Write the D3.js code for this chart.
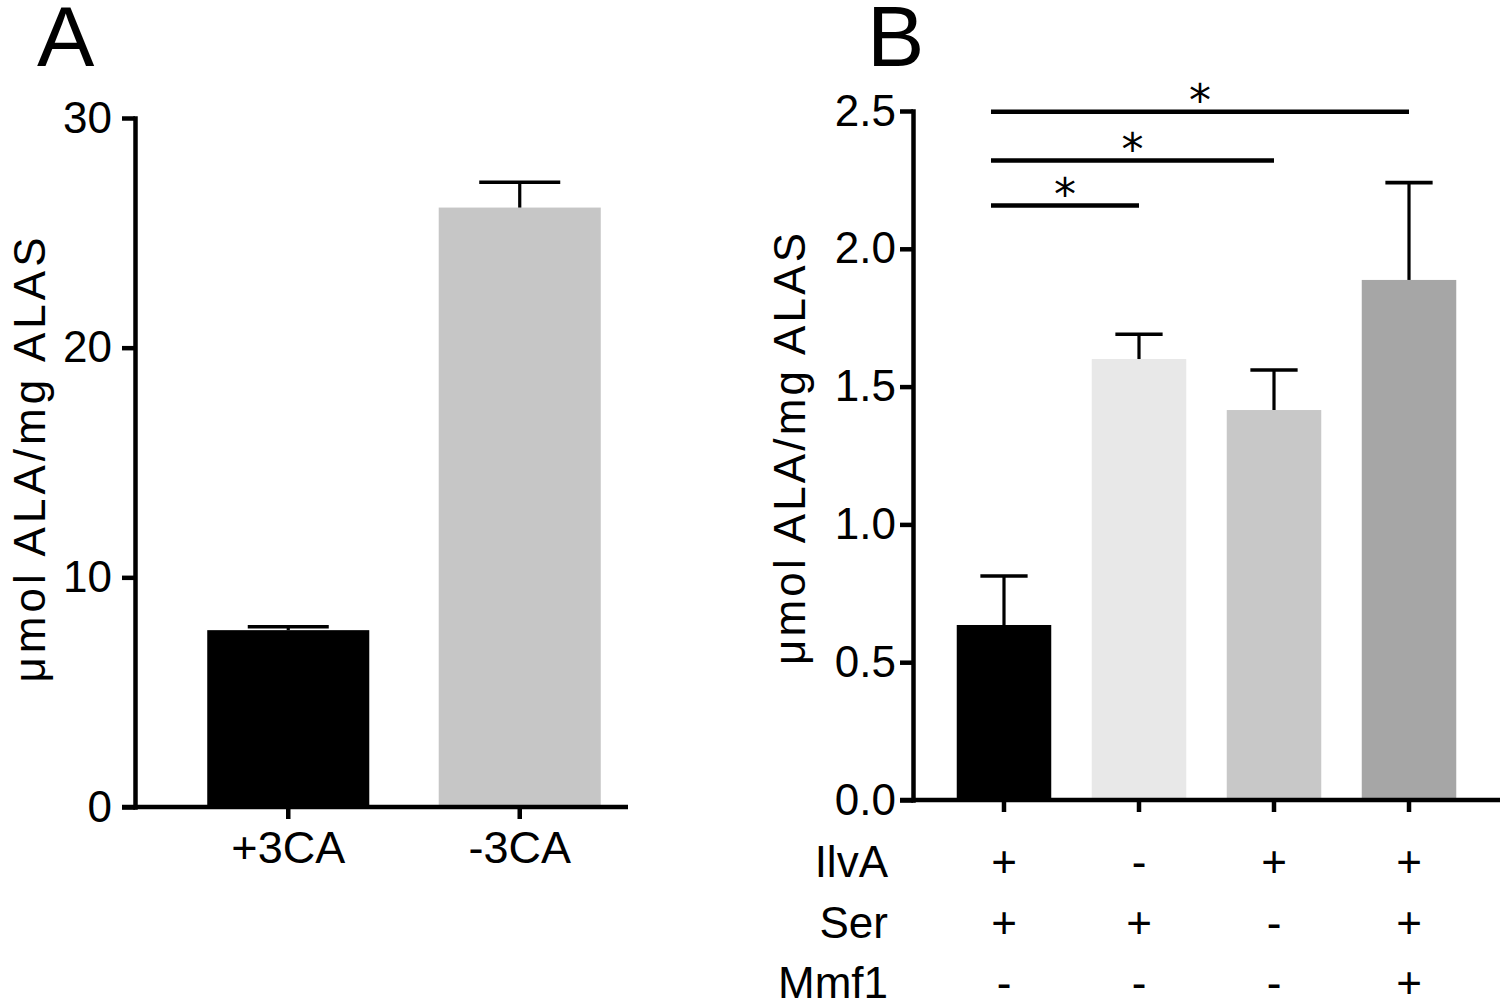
<!DOCTYPE html>
<html>
<head>
<meta charset="utf-8">
<script src="https://cdn.jsdelivr.net/npm/d3@7"></script>
<style>
  html, body { margin: 0; padding: 0; background: #fff; }
  svg { display: block; font-family: "Liberation Sans", Arial, sans-serif; }
</style>
</head>
<body>
<svg id="chart" width="1500" height="1000"></svg>
<script>
// ---------- DATA ----------
// Panel A
const catsA = ["+3CA", "-3CA"];
const meansA = [7.7, 26.1];
const errA = [7.85, 27.2];
const colorsA = ["#000000", "#c6c6c6"];
const ticksA = [0, 10, 20, 30];

// Panel B
const catsB = ["c1", "c2", "c3", "c4"];
const meansB = [0.635, 1.60, 1.415, 1.887];
const errB = [0.813, 1.69, 1.56, 2.24];
const colorsB = ["#000000", "#e8e8e8", "#c8c8c8", "#a6a6a6"];
const ticksB = [0.0, 0.5, 1.0, 1.5, 2.0, 2.5];

// Condition table under panel B
const rowLabels = ["IlvA", "Ser", "Mmf1"];
const ilvA = ["+", "-", "+", "+"];
const ser = ["+", "+", "-", "+"];
const mmf1 = ["-", "-", "-", "+"];

// Significance comparisons: [from index, to index, y level]
const sigFrom = [0, 0, 0];
const sigTo = [3, 2, 1];
const sigLevel = [2.497, 2.32, 2.157];
const sigLabel = ["*", "*", "*"];

const yLabel = "\u03bcmol ALA/mg ALAS";

// ---------- DRAW ----------
const svg = d3.select("#chart");
const AX = 4.5; // axis stroke width

function drawPanel(opt) {
  const g = svg.append("g");
  const y = d3.scaleLinear().domain(opt.yDomain).range(opt.yRange);
  const x = d3.scaleBand().domain(opt.cats).range(opt.xRange)
    .paddingInner(0.3).paddingOuter(opt.po);

  // bars
  g.selectAll("rect.bar").data(opt.means).join("rect")
    .attr("class", "bar")
    .attr("x", (d, i) => x(opt.cats[i]))
    .attr("width", x.bandwidth())
    .attr("y", d => y(d))
    .attr("height", d => y(0) - y(d))
    .attr("fill", (d, i) => opt.colors[i]);

  // error bars
  const cap = x.bandwidth() / 2;
  opt.means.forEach((m, i) => {
    const cx = x(opt.cats[i]) + x.bandwidth() / 2;
    g.append("line").attr("x1", cx).attr("x2", cx)
      .attr("y1", y(m)).attr("y2", y(opt.err[i]))
      .attr("stroke", "#000").attr("stroke-width", 3.2);
    g.append("line").attr("x1", cx - cap / 2).attr("x2", cx + cap / 2)
      .attr("y1", y(opt.err[i])).attr("y2", y(opt.err[i]))
      .attr("stroke", "#000").attr("stroke-width", 3.6);
  });

  // y axis
  const ya = g.append("g").attr("transform", `translate(${opt.yAxisX},0)`)
    .call(d3.axisLeft(y).tickValues(opt.ticks).tickFormat(opt.fmt)
      .tickSize(13).tickSizeOuter(0).tickPadding(opt.tickPad));
  ya.select(".domain").attr("stroke-width", AX).attr("stroke-linecap", "square");
  ya.selectAll(".tick line").attr("stroke-width", AX);
  ya.selectAll(".tick text").attr("font-size", 44)
    .attr("font-family", "Liberation Sans, Arial, sans-serif").attr("fill", "#000");

  // x axis
  const xa = g.append("g").attr("transform", `translate(0,${y(0)})`)
    .call(d3.axisBottom(x).tickSize(12).tickSizeOuter(0).tickPadding(12)
      .tickFormat(opt.xFmt));
  xa.select(".domain").remove();
  xa.selectAll(".tick line").attr("stroke-width", AX);
  xa.selectAll(".tick text").attr("font-size", 45)
    .attr("font-family", "Liberation Sans, Arial, sans-serif").attr("fill", "#000");
  g.append("line").attr("x1", opt.yAxisX - 13).attr("x2", opt.xAxisEnd)
    .attr("y1", y(0)).attr("y2", y(0))
    .attr("stroke", "#000").attr("stroke-width", AX);

  // y label
  g.append("text")
    .attr("transform", `translate(${opt.labelX},${opt.labelY}) rotate(-90)`)
    .attr("text-anchor", "middle")
    .attr("font-size", 44)
    .attr("textLength", opt.labelLen).attr("lengthAdjust", "spacing")
    .text(yLabel);

  // panel letter
  g.append("text").attr("x", opt.letterX).attr("y", 66)
    .attr("font-size", 86).text(opt.letter);

  return { x, y, g };
}

drawPanel({
  cats: catsA, means: meansA, err: errA, colors: colorsA, ticks: ticksA,
  yDomain: [0, 30], yRange: [807, 118], xRange: [154, 654], po: 0.23,
  yAxisX: 135, xAxisEnd: 628, tickPad: 10, fmt: d3.format("d"),
  xFmt: d => d, labelX: 45, labelY: 460, labelLen: 445, letter: "A", letterX: 37
});

const B = drawPanel({
  cats: catsB, means: meansB, err: errB, colors: colorsB, ticks: ticksB,
  yDomain: [0, 2.5], yRange: [800, 111], xRange: [913, 1500], po: 0.324,
  yAxisX: 913, xAxisEnd: 1500, tickPad: 4, fmt: d3.format(".1f"),
  xFmt: () => "", labelX: 805, labelY: 449, labelLen: 432, letter: "B", letterX: 867
});

// significance bars
const cB = i => B.x(catsB[i]) + B.x.bandwidth() / 2;
sigLevel.forEach((lv, k) => {
  const x1 = cB(sigFrom[k]) - 13, x2 = cB(sigTo[k]);
  B.g.append("line").attr("x1", x1).attr("x2", x2)
    .attr("y1", B.y(lv)).attr("y2", B.y(lv))
    .attr("stroke", "#000").attr("stroke-width", 4.5);
  B.g.append("text").attr("x", (x1 + x2) / 2).attr("y", B.y(lv) + 4)
    .attr("text-anchor", "middle").attr("font-size", 44)
    .attr("font-family", "DejaVu Sans, sans-serif").text(sigLabel[k]);
});

// condition table
const rows = [ilvA, ser, mmf1];
const rowBase = [877, 938, 998];
rows.forEach((vals, r) => {
  B.g.append("text").attr("x", 888).attr("y", rowBase[r])
    .attr("text-anchor", "end").attr("font-size", 44).text(rowLabels[r]);
  vals.forEach((v, i) => {
    B.g.append("text").attr("x", cB(i)).attr("y", rowBase[r])
      .attr("text-anchor", "middle").attr("font-size", 44).text(v);
  });
});
</script>
</body>
</html>
